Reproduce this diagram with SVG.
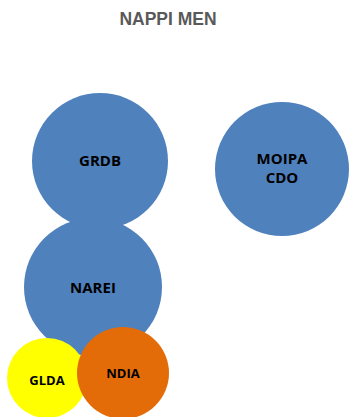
<svg xmlns="http://www.w3.org/2000/svg" width="350" height="417" viewBox="0 0 350 417">
  <style>
    .blue { fill: #4f81bd; }
    .lbl { font-family: "Open Sans", "Liberation Sans", sans-serif; font-weight: bold; fill: #000; text-anchor: middle; }
    .title { font-family: "Liberation Sans", Arial, sans-serif; font-weight: bold; font-size: 17.5px; fill: #595959; text-anchor: middle; }
  </style>
  <rect width="350" height="417" fill="#ffffff"/>
  <text class="title" x="168" y="25">NAPPI MEN</text>
  <g id="connectors"/>
  <g id="grdb">
    <circle class="blue" cx="100" cy="161" r="68"/>
    <text class="lbl" x="100" y="166" font-size="15">GRDB</text>
  </g>
  <g id="moipa">
    <circle class="blue" cx="282" cy="169" r="67"/>
    <text class="lbl" x="282" y="164" font-size="15">MOIPA</text>
    <text class="lbl" x="282" y="183" font-size="15">CDO</text>
  </g>
  <g id="narei">
    <circle class="blue" cx="93" cy="287" r="69"/>
    <text class="lbl" x="93" y="293" font-size="15">NAREI</text>
  </g>
  <g id="glda">
    <circle cx="47" cy="378" r="40" fill="#ffff00"/>
    <text class="lbl" x="47" y="385" font-size="13">GLDA</text>
  </g>
  <g id="ndia">
    <circle cx="123" cy="373" r="46" fill="#e36c09"/>
    <text class="lbl" x="123" y="378" font-size="13">NDIA</text>
  </g>
</svg>
